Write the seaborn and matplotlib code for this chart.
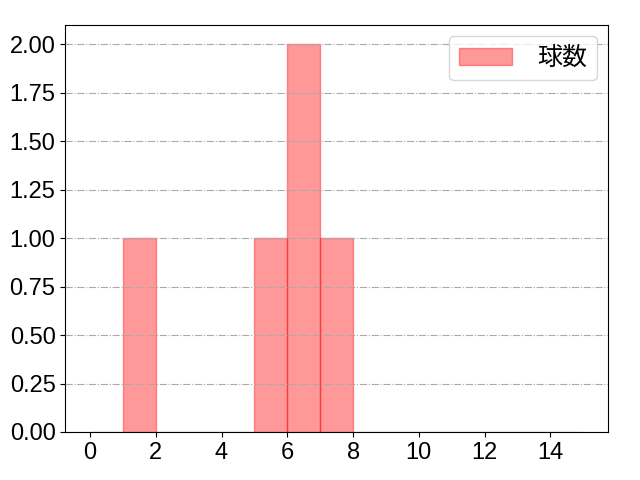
import numpy as np
import pandas as pd
import matplotlib
matplotlib.use('Agg')
import matplotlib.pyplot as plt
import seaborn as sns

# pitch counts per plate appearance
pitches = [1, 5, 6, 6, 7]
bin_edges = list(range(0, 16))
label = '球数'

sns.set_style('white')
plt.rcParams['font.family'] = ['Liberation Sans', 'Noto Sans CJK JP']
plt.rcParams['text.color'] = 'black'
plt.rcParams['xtick.color'] = 'black'
plt.rcParams['ytick.color'] = 'black'

df = pd.DataFrame({label: pitches})

fig, ax = plt.subplots(figsize=(6.4, 4.8), dpi=100)
sns.histplot(data=df, x=label, bins=bin_edges, color='red', alpha=0.4,
             edgecolor=(1, 0, 0, 0.4), linewidth=1.0, label=label, ax=ax)
ax.grid(True, axis='y', linestyle='-.', color='#aaaaaa', linewidth=0.8)
ax.set_axisbelow(False)
ax.set_xlim(-0.75, 15.75)
ax.set_ylim(0, 2.1)
ax.set_xticks(range(0, 16, 2))
ax.yaxis.set_major_locator(matplotlib.ticker.MultipleLocator(0.25))
ax.yaxis.set_major_formatter(matplotlib.ticker.FormatStrFormatter('%.2f'))
ax.set_xlabel('')
ax.set_ylabel('')
ax.tick_params(labelsize=17, left=True, bottom=True, length=3.5, width=0.8)
for s in ax.spines.values():
    s.set_color('black')
leg = ax.legend(fontsize=18, loc='upper right', handlelength=2.1,
                handletextpad=1.0, borderaxespad=0.45)
fig.subplots_adjust(left=0.102, right=0.95, top=0.948, bottom=0.1)
plt.savefig('out.png', dpi=100)
